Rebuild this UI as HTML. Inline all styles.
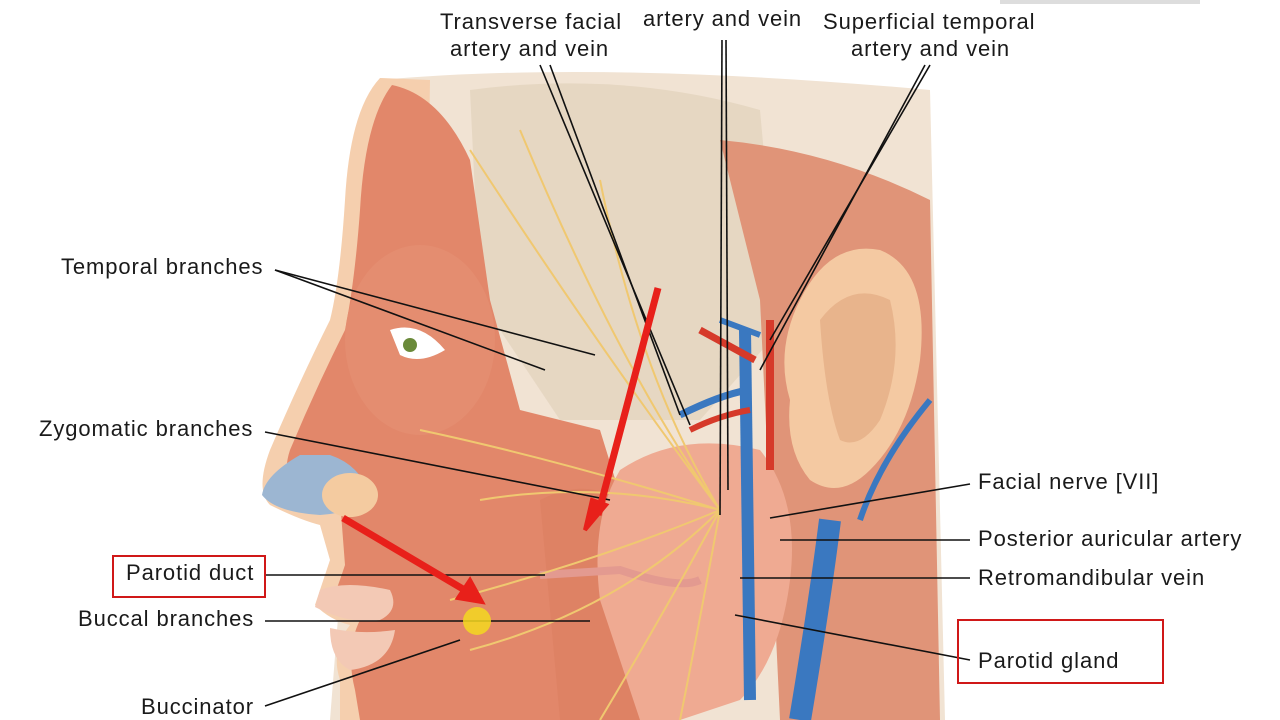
<!DOCTYPE html>
<html><head><meta charset="utf-8"><style>
html,body{margin:0;padding:0;background:#fff;}
body{width:1280px;height:720px;overflow:hidden;position:relative;font-family:"Liberation Sans",Arial,sans-serif;}
.l{position:absolute;font-size:22px;letter-spacing:0.9px;color:#1a1a1a;white-space:nowrap;line-height:26px;}
</style></head><body>
<svg width="1280" height="720" style="position:absolute;left:0;top:0">
<rect x="1200" y="0" width="80" height="720" fill="#fff"/>
<path d="M380 80 Q600 60 930 90 L945 720 L330 720 Z" fill="#f1e3d3"/>
<path d="M470 90 Q620 70 760 110 L780 330 L700 420 L560 420 L480 300 Z" fill="#e6d7c2"/>
<path d="M720 140 Q830 150 930 200 L940 720 L780 720 L760 300 Z" fill="#e09478"/>
<path d="M380 78 Q350 110 345 200 Q340 280 330 320 Q300 380 270 450 Q255 490 270 505 Q300 520 320 525 L330 560 Q320 590 315 605 Q330 620 350 625 Q330 650 340 680 L340 720 L420 720 L430 80 Z" fill="#f5cfae"/>
<path d="M392 85 Q365 120 360 210 Q355 280 345 330 Q315 390 290 450 Q280 480 300 495 L340 500 L345 565 Q335 595 330 605 Q345 615 360 620 Q345 650 355 690 L360 720 L620 720 L640 560 L600 430 L520 410 L490 300 L470 160 Q440 95 392 85 Z" fill="#e2876a"/>
<ellipse cx="420" cy="340" rx="75" ry="95" fill="#e48d70"/>
<path d="M390 330 Q420 320 445 350 Q420 365 400 355 Z" fill="#fff"/>
<circle cx="410" cy="345" r="7" fill="#6a8a3a"/>
<path d="M300 455 Q265 475 262 495 Q275 512 320 515 Q360 512 370 495 Q360 465 330 455 Z" fill="#9cb6d2"/>
<ellipse cx="350" cy="495" rx="28" ry="22" fill="#f4cba0"/>
<path d="M320 590 Q345 580 390 590 Q400 610 380 620 Q350 625 315 607 Z" fill="#f3c9b5"/>
<path d="M330 628 Q360 635 395 630 Q390 665 350 670 Q330 660 330 628 Z" fill="#f3c9b5"/>
<path d="M540 500 Q600 470 640 520 L660 720 L560 720 Z" fill="#de8264"/>
<path d="M620 470 Q680 430 760 450 Q800 500 790 580 Q780 660 740 700 L680 720 L640 720 L600 600 Q590 520 620 470 Z" fill="#efaa92"/>
<path d="M800 300 Q830 240 880 250 Q930 270 920 360 Q910 430 870 470 Q840 500 810 480 Q785 450 790 400 Q775 350 800 300 Z" fill="#f4c9a2"/>
<path d="M820 320 Q850 280 890 300 Q905 360 880 420 Q860 450 840 440 Q825 400 820 320 Z" fill="#e8b48c"/>
<path d="M745 330 L750 700" stroke="#3a78c0" stroke-width="12" fill="none"/>
<path d="M770 320 L770 470" stroke="#d63a2a" stroke-width="8" fill="none"/>
<path d="M700 330 L755 360" stroke="#d63a2a" stroke-width="7" fill="none"/>
<path d="M680 415 Q720 395 748 390" stroke="#3a78c0" stroke-width="7" fill="none"/>
<path d="M690 430 Q720 415 750 410" stroke="#d63a2a" stroke-width="6" fill="none"/>
<path d="M830 520 Q820 600 800 720" stroke="#3a78c0" stroke-width="22" fill="none"/>
<path d="M720 320 L760 335" stroke="#3a78c0" stroke-width="6" fill="none"/>
<path d="M930 400 Q880 460 860 520" stroke="#3a78c0" stroke-width="6" fill="none"/>
<path d="M700 580 Q680 590 620 570 L540 575" stroke="#e39a90" stroke-width="8" fill="none"/>
<g stroke="#f0c870" stroke-width="2" fill="none">
<path d="M720 510 Q600 350 470 150"/><path d="M720 510 Q620 370 520 130"/><path d="M720 510 Q640 380 600 180"/>
<path d="M720 510 Q560 460 420 430"/><path d="M720 510 Q600 480 480 500"/><path d="M720 510 Q600 560 450 600"/>
<path d="M720 510 Q620 610 470 650"/><path d="M720 510 Q660 620 600 720"/><path d="M720 510 Q700 620 680 720"/>
</g>
<g stroke="#111" stroke-width="1.6" fill="none">
<path d="M540 65 L690 425"/><path d="M550 65 L680 415"/>
<path d="M722 40 L720 515"/><path d="M726 40 L728 490"/>
<path d="M925 65 L760 370"/><path d="M930 65 L770 340"/>
<path d="M275 270 L595 355"/><path d="M275 270 L545 370"/>
<path d="M265 432 L610 500"/>
<path d="M265 575 L545 575"/>
<path d="M265 621 L590 621"/>
<path d="M265 706 L460 640"/>
<path d="M970 484 L770 518"/>
<path d="M970 540 L780 540"/>
<path d="M970 578 L740 578"/>
<path d="M970 660 L735 615"/>
</g>
<path d="M658 288 L598 515" stroke="#e8201a" stroke-width="7"/>
<path d="M585 530 L592 500 L606 505 Z" fill="#e8201a" stroke="#e8201a" stroke-width="4"/>
<path d="M343 518 L468 592" stroke="#e8201a" stroke-width="7"/>
<path d="M482 602 L458 598 L470 580 Z" fill="#e8201a" stroke="#e8201a" stroke-width="4"/>
<circle cx="477" cy="621" r="14" fill="#f3d820" opacity="0.85"/>
<rect x="113" y="556" width="152" height="41" fill="none" stroke="#d01818" stroke-width="2"/>
<rect x="958" y="620" width="205" height="63" fill="none" stroke="#d01818" stroke-width="2"/>
<rect x="1000" y="0" width="200" height="4" fill="#ddd"/>
</svg>
<div class="l" style="left:440px;top:9px">Transverse facial</div>
<div class="l" style="left:450px;top:36px">artery and vein</div>
<div class="l" style="left:643px;top:6px">artery and vein</div>
<div class="l" style="left:823px;top:9px">Superficial temporal</div>
<div class="l" style="left:851px;top:36px">artery and vein</div>
<div class="l" style="left:61px;top:254px">Temporal branches</div>
<div class="l" style="left:39px;top:416px">Zygomatic branches</div>
<div class="l" style="left:126px;top:560px">Parotid duct</div>
<div class="l" style="left:78px;top:606px">Buccal branches</div>
<div class="l" style="left:141px;top:694px">Buccinator</div>
<div class="l" style="left:978px;top:469px">Facial nerve [VII]</div>
<div class="l" style="left:978px;top:526px">Posterior auricular artery</div>
<div class="l" style="left:978px;top:565px">Retromandibular vein</div>
<div class="l" style="left:978px;top:648px">Parotid gland</div>
</body></html>
